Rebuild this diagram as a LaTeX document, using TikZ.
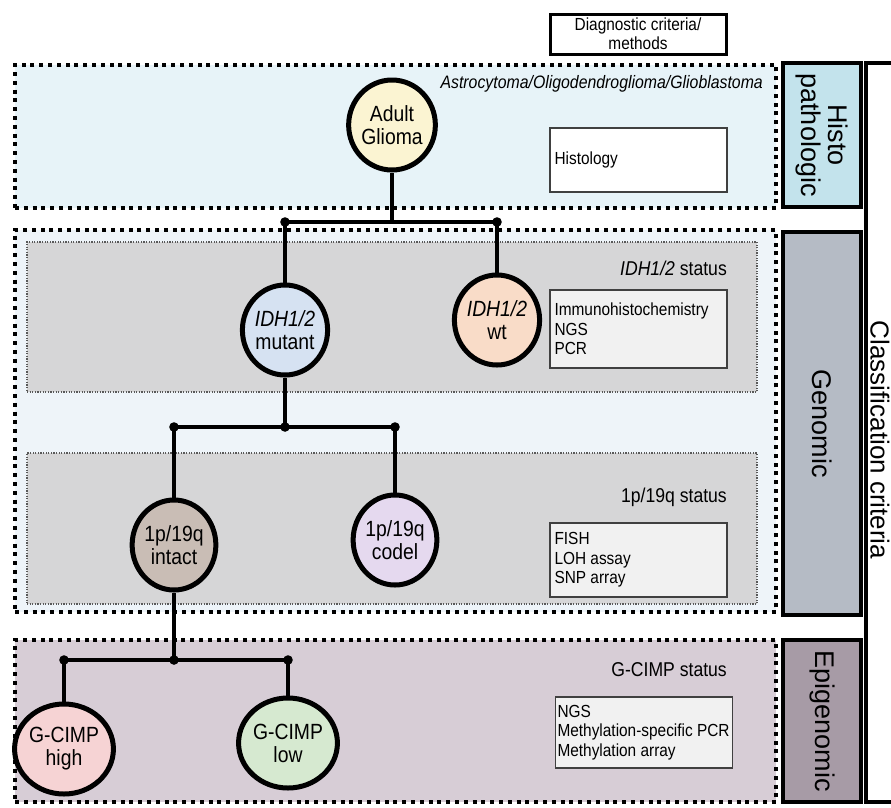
\documentclass[tikz,border=0pt]{standalone}
\usepackage{fontspec}
\setmainfont{Liberation Sans}[FakeStretch=0.88]
\newfontfamily\labelfont{Liberation Sans}
\usetikzlibrary{shapes.geometric}
\definecolor{histobg}{HTML}{E7F3F8}
\definecolor{genbg}{HTML}{EEF4F9}
\definecolor{subbg}{HTML}{D6D6D7}
\definecolor{epibg}{HTML}{D7CDD6}
\definecolor{histolab}{HTML}{C3E3EC}
\definecolor{genlab}{HTML}{B5BBC5}
\definecolor{epilab}{HTML}{A79BA6}
\definecolor{cglioma}{HTML}{FBF4D2}
\definecolor{cmut}{HTML}{D6E2F2}
\definecolor{cwt}{HTML}{F9DCC8}
\definecolor{cintact}{HTML}{C9BDB5}
\definecolor{ccodel}{HTML}{E5D9EF}
\definecolor{chigh}{HTML}{F6D3D4}
\definecolor{clow}{HTML}{D6E9D0}
\definecolor{methbg}{HTML}{F1F1F1}
\begin{document}
\begin{tikzpicture}[x=1pt,y=-1pt,
  band/.style={draw=black, line width=4.2, dash pattern=on 4 off 4.8, minimum width=761, inner sep=0},
  subband/.style={draw=black!65, line width=1.1, dash pattern=on 1.2 off 1.4, fill=subbg, minimum width=730, inner sep=0},
  labbox/.style={draw=black, line width=4, minimum height=78, inner sep=0, rotate=-90, font=\labelfont\fontsize{27}{29}\selectfont, align=center},
  cnode/.style={ellipse, draw=black, line width=5, minimum width=80, minimum height=90, inner sep=0, align=center, font=\fontsize{22}{23}\selectfont},
  meth/.style={draw=black!75, line width=1.3, minimum width=177, inner sep=0},
  methtext/.style={anchor=west, inner sep=0, align=left, font=\fontsize{17.5}{19.5}\selectfont},
  status/.style={anchor=east, inner sep=0, font=\fontsize{20}{22}\selectfont},
  conn/.style={line width=3.2},
  dotj/.style={fill=black}
]
\useasboundingbox (0,0) rectangle (891,807);
% bands
\node[band, fill=histobg, minimum height=143] (histoband) at (395.5,136.5) {};
\node[band, fill=genbg, minimum height=382] (genband) at (395.5,421) {};
\node[subband, minimum height=150] (idhband) at (392,317) {};
\node[subband, minimum height=151] (pqband) at (392,528.5) {};
\node[band, fill=epibg, minimum height=162] (epiband) at (395.5,721) {};
% side labels
\node[labbox, fill=histolab, minimum width=144] (histolab) at (822,135) {Histo\\[-2pt]pathologic};
\node[labbox, fill=genlab, minimum width=383] (genlab) at (822,423.5) {Genomic};
\node[labbox, fill=epilab, minimum width=162] (epilab) at (822,721) {Epigenomic};
\node[draw=black, line width=4, fill=white, minimum height=28, minimum width=739, inner sep=0, rotate=-90] (classlab) at (880,432.5) {};
\node[rotate=-90, inner sep=0, font=\labelfont\fontsize{26}{28}\selectfont] (classtext) at (880,440) {Classification criteria};
% header
\node[draw=black, line width=3, minimum width=176, minimum height=40, inner sep=0, align=center, font=\fontsize{17.5}{19}\selectfont] (diag) at (638,34) {Diagnostic criteria/\\methods};
% texts
\node[status, font=\itshape\fontsize{18}{20}\selectfont] (histotype) at (763,84) {Astrocytoma/Oligodendroglioma/Glioblastoma};
\node[meth, fill=white, minimum height=64] (histology) at (638.5,160) {};
\node[methtext] (histologyt) at ([xshift=5]histology.west) {Histology};
\node[status] (idhstatus) at (727,268) {\textit{IDH1/2} status};
\node[meth, fill=methbg, minimum height=78] (idhmeth) at (638.5,329) {};
\node[methtext] (idhmetht) at ([xshift=5]idhmeth.west) {Immunohistochemistry\\NGS\\PCR};
\node[status] (pqstatus) at (727,497) {1p/19q status};
\node[meth, fill=methbg, minimum height=74] (pqmeth) at (638.5,560) {};
\node[methtext] (pqmetht) at ([xshift=5]pqmeth.west) {FISH\\LOH assay\\SNP array};
\node[status] (gstatus) at (727,670) {G-CIMP status};
\node[meth, fill=methbg, minimum height=71] (gmeth) at (644,732.5) {};
\node[methtext] (gmetht) at ([xshift=2.5]gmeth.west) {NGS\\Methylation-specific PCR\\Methylation array};
% circle nodes
\node[cnode, fill=cglioma] (glioma) at (392,125) {Adult\\Glioma};
\node[cnode, fill=cmut] (mutant) at (285,330) {\textit{IDH1/2}\\mutant};
\node[cnode, fill=cwt] (wt) at (497,320) {\textit{IDH1/2}\\wt};
\node[cnode, fill=cintact] (intact) at (174,545) {1p/19q\\intact};
\node[cnode, fill=ccodel] (codel) at (395,540) {1p/19q\\codel};
\node[cnode, fill=chigh] (high) at (64,749) {G-CIMP\\high};
\node[cnode, fill=clow] (low) at (288,743) {G-CIMP\\low};
% junctions
\coordinate (j1) at (392,222);
\coordinate (j1a) at (285,222);
\coordinate (j1b) at (497,222);
\coordinate (j2) at (285,427);
\coordinate (j2a) at (174,427);
\coordinate (j2b) at (395,427);
\coordinate (j3) at (174,660);
\coordinate (j3a) at (64,660);
\coordinate (j3b) at (288,660);
% connectors
\draw[conn] (glioma) -- (j1);
\draw[conn] (j1a) -- (j1b);
\draw[conn] (j1a) -- (mutant);
\draw[conn] (j1b) -- (wt);
\draw[conn] (mutant) -- (j2);
\draw[conn] (j2a) -- (j2b);
\draw[conn] (j2a) -- (intact);
\draw[conn] (j2b) -- (codel);
\draw[conn] (intact) -- (j3);
\draw[conn] (j3a) -- (j3b);
\draw[conn] (j3a) -- (high);
\draw[conn] (j3b) -- (low);
\foreach \p in {j1a,j1b,j2,j2a,j2b,j3,j3a,j3b} \fill[dotj] (\p) circle (4.8);
\end{tikzpicture}
\end{document}
